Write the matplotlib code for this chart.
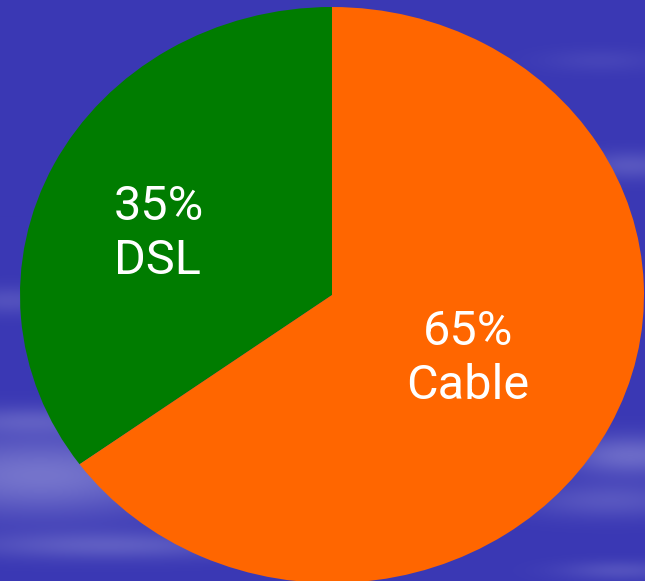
import numpy as np
import matplotlib.pyplot as plt

# broadband share
labels = ['DSL', 'Cable']
shares = [35, 65]
colors = ['#007c00', '#ff6600']

W, H = 645, 581
fig = plt.figure(figsize=(W / 100, H / 100), dpi=100)

# blue sky background with a few soft cloud streaks
bg = fig.add_axes([0, 0, 1, 1])
yy, xx = np.mgrid[0:H, 0:W]
light = np.zeros((H, W))
# (y centre, y width, x centre, x width, strength)
streaks = [(475, 40, 40, 150, 0.6), (420, 14, 30, 90, 0.3), (300, 14, 10, 50, 0.25),
           (455, 20, 630, 70, 0.5), (500, 18, 610, 90, 0.3), (165, 14, 630, 50, 0.3),
           (545, 14, 110, 140, 0.35), (570, 10, 620, 60, 0.25), (60, 12, 600, 60, 0.12)]
for yc, yw, xc, xw, s in streaks:
    light += s * np.exp(-((yy - yc) / yw) ** 2 - ((xx - xc) / xw) ** 2)
light = np.clip(light, 0, 1)
base = np.array([0x3a, 0x38, 0xb4]) / 255
hi = np.array([0x9c, 0x9c, 0xdc]) / 255
img = base[None, None, :] * (1 - light[..., None]) + hi[None, None, :] * light[..., None]
bg.imshow(img, extent=[0, W, H, 0], aspect='auto')
bg.axis('off')

# pie, drawn slightly elliptical like the original
ax = fig.add_axes([0, 0, 1, 1])
ax.patch.set_alpha(0)
cx, cy, rx, ry = 332, 295, 312, 288
ax.pie(shares, colors=colors, startangle=90, counterclock=True,
       wedgeprops=dict(linewidth=0))
ax.set_aspect('auto')
ax.set_xlim((0 - cx) / rx, (W - cx) / rx)
ax.set_ylim((cy - H) / ry, (cy - 0) / ry)
ax.axis('off')


def px(x, y):
    return (x - cx) / rx, (cy - y) / ry


fam = ['Roboto', 'DejaVu Sans']
x, y = px(114, 234)
ax.text(x, y, f'{shares[0]}%\n{labels[0]}', color='white', fontsize=35, family=fam,
        ha='left', va='center', linespacing=1.22)
x, y = px(468, 359)
ax.text(x, y, f'{shares[1]}%\n{labels[1]}', color='white', fontsize=35, family=fam,
        ha='center', va='center', linespacing=1.22, multialignment='center')

fig.savefig('out.png', dpi=100)
